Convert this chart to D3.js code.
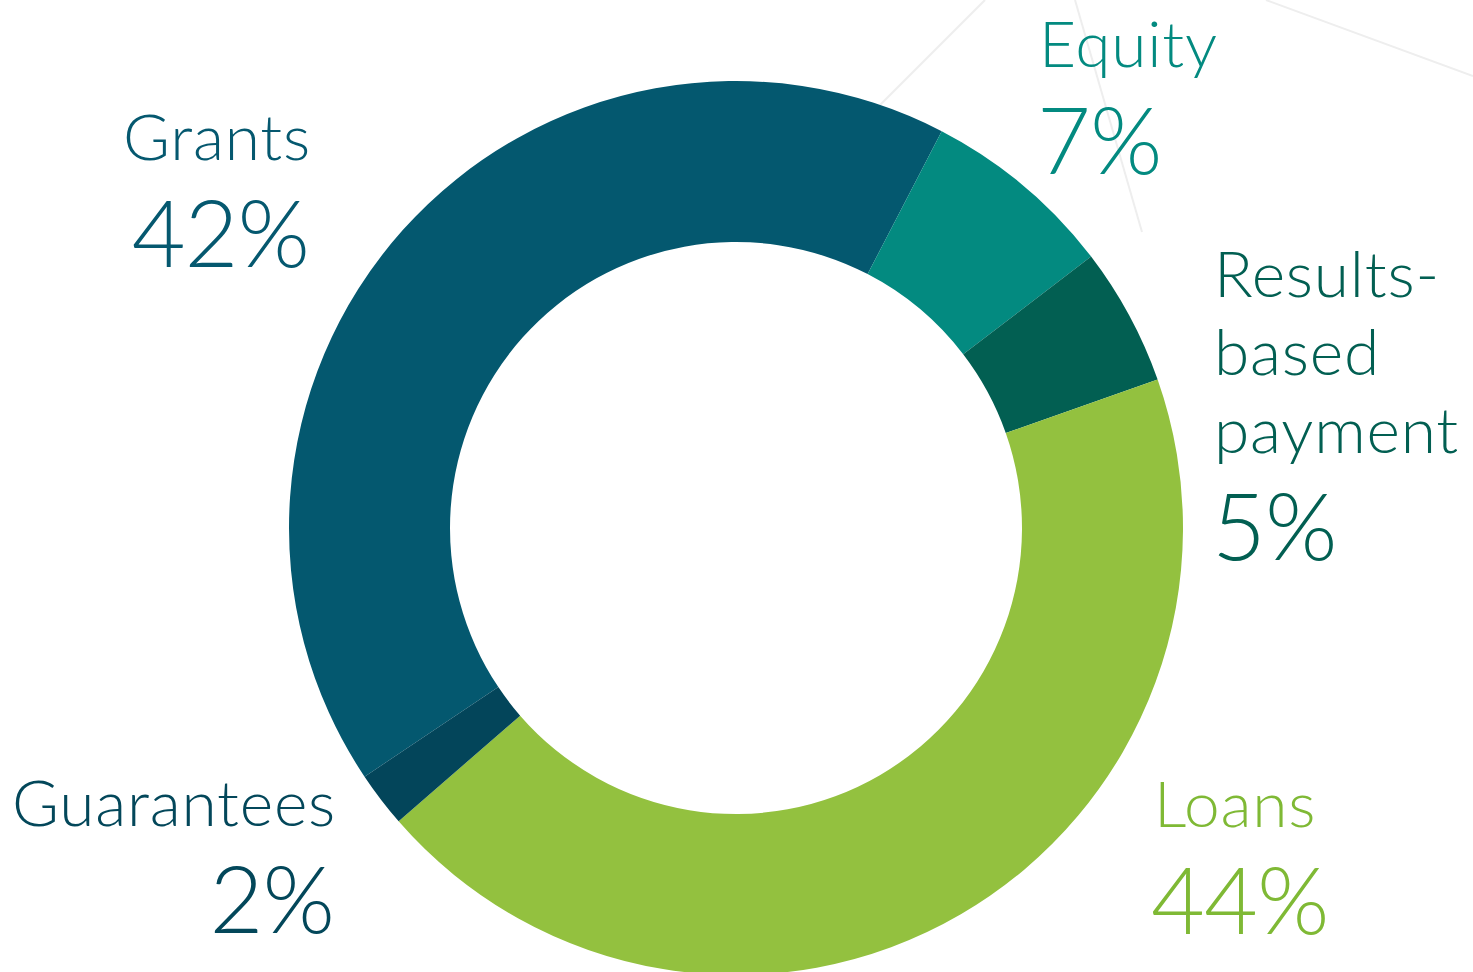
<!DOCTYPE html>
<html>
<head>
<meta charset="utf-8">
<script src="https://cdn.jsdelivr.net/npm/d3@7"></script>
<style>
  html, body { margin: 0; padding: 0; background: #fff; }
  svg text { font-family: Lato, "Open Sans", sans-serif; font-weight: 300; }
</style>
</head>
<body>
<div id="chart"></div>
<script>
// data
var categories = ["Grants", "Equity", "Results-based payment", "Loans", "Guarantees"];
var shares = [42, 7, 5, 44, 2];
var sliceColors = ["#04586f", "#038a80", "#025f52", "#93c13f", "#03455a"];
var textColors = ["#05586f", "#038a80", "#025f52", "#7fb935", "#03475a"];
var nameLines = [["Grants"], ["Equity"], ["Results-", "based", "payment"], ["Loans"], ["Guarantees"]];

var width = 1473, height = 972;
var cx = 736, cy = 528;
var outerR = 447, innerR = 286;

var svg = d3.select("#chart").append("svg")
    .attr("width", width)
    .attr("height", height);

// faint background strokes
var bg = svg.append("g").attr("class", "bg")
    .attr("stroke", "#eeeeee").attr("stroke-width", 2).attr("fill", "none");
bg.append("line").attr("x1", 985).attr("y1", 0).attr("x2", 880).attr("y2", 105);
bg.append("line").attr("x1", 1075).attr("y1", 0).attr("x2", 1142).attr("y2", 232);
bg.append("line").attr("x1", 1266).attr("y1", 0).attr("x2", 1473).attr("y2", 76);

var deg = Math.PI / 180;
var pie = d3.pie().sort(null)
    .startAngle(-123.8 * deg)
    .endAngle(236.2 * deg);
var arc = d3.arc().innerRadius(innerR).outerRadius(outerR);

var arcs = pie(shares);

svg.append("g").attr("class", "slices")
    .attr("transform", "translate(" + cx + "," + cy + ")")
    .selectAll("path").data(arcs)
    .enter().append("path")
    .attr("d", arc)
    .attr("fill", function(d, i) { return sliceColors[i]; });

// label placement
var labelPos = [
    {x: 311, y: 160, anchor: "end", px: 309, panchor: "end"},
    {x: 1039, y: 67, anchor: "start", px: 1037, panchor: "start"},
    {x: 1214, y: 297, anchor: "start", px: 1212, panchor: "start"},
    {x: 1154, y: 827, anchor: "start", px: 1151, panchor: "start"},
    {x: 12, y: 826, anchor: "start", px: 334, panchor: "end"}
];
var lineGap = 78, pctGap = 107;

var labels = svg.append("g").attr("class", "labels")
    .selectAll("g").data(categories)
    .enter().append("g");

labels.each(function(c, i) {
    var g = d3.select(this);
    var p = labelPos[i];
    nameLines[i].forEach(function(t, k) {
        g.append("text")
            .attr("x", p.x)
            .attr("y", p.y + k * lineGap)
            .attr("text-anchor", p.anchor)
            .attr("fill", textColors[i])
            .style("font-size", "64px")
            .style("letter-spacing", "0.8px")
            .text(t);
    });
    g.append("text")
        .attr("x", p.px)
        .attr("y", p.y + (nameLines[i].length - 1) * lineGap + pctGap)
        .attr("text-anchor", p.panchor)
        .attr("fill", textColors[i])
        .style("font-size", "93px")
        .style("letter-spacing", "-1px")
        .text(shares[i] + "%");
});
</script>
</body>
</html>
